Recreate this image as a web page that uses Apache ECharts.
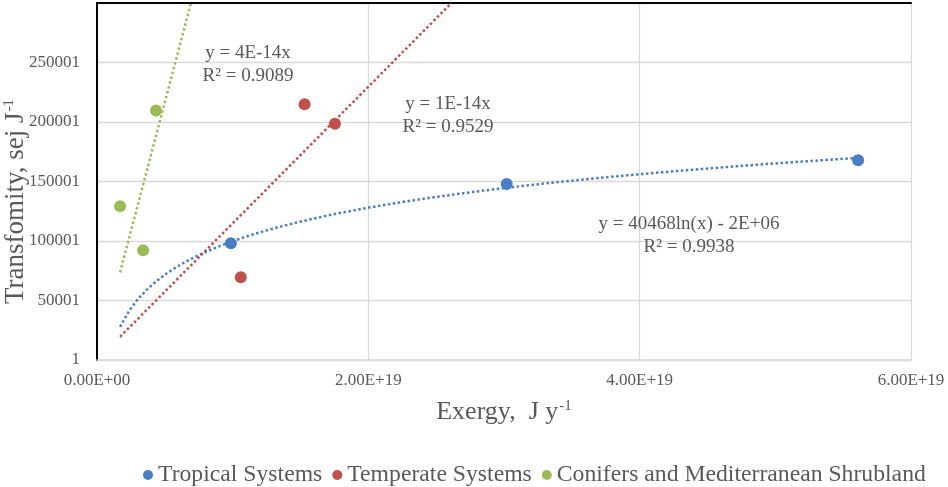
<!DOCTYPE html>
<html>
<head>
<meta charset="utf-8">
<script src="https://cdn.jsdelivr.net/npm/echarts@6/dist/echarts.min.js"></script>
<style>
  html, body { margin: 0; padding: 0; background: #fff; }
  #chart { width: 948px; height: 487px; }
</style>
</head>
<body>
<div id="chart"></div>
<script>
// values: exergy (J/y) vs transformity (sej/J)
const seriesNames = ['Tropical Systems', 'Temperate Systems', 'Conifers and Mediterranean Shrubland'];
const colors = ['#4A7EC4', '#C0504D', '#9BBB59'];

const tropicalX = [0.987e19, 3.02e19, 5.61e19];
const tropicalY = [98150, 147900, 167800];
const temperateX = [1.06e19, 1.53e19, 1.754e19];
const temperateY = [69600, 215000, 198600];
const coniferX = [0.17e19, 0.34e19, 0.435e19];
const coniferY = [129200, 92300, 209700];

// trendline labels as printed on the chart
const eqTropical = ['y = 40468ln(x) - 2E+06', 'R\u00B2 = 0.9938'];
const eqTemperate = ['y = 1E-14x', 'R\u00B2 = 0.9529'];
const eqConifer = ['y = 4E-14x', 'R\u00B2 = 0.9089'];

// axes
const xMin = 0, xMax = 6e19, xStep = 2e19;
const yMin = 1, yMax = 300001, yStep = 50000;
const trendStart = 1.7e18; // trendlines are forecast back to here

const serif = '"Liberation Serif", "Times New Roman", serif';
const grey = '#595959';

function pairs(xs, ys) {
    return xs.map(function (x, i) { return [x, ys[i]]; });
}

// least squares y = a ln(x) + b
function fitLog(xs, ys) {
    const lx = xs.map(Math.log);
    const n = xs.length;
    const mx = lx.reduce((s, v) => s + v, 0) / n;
    const my = ys.reduce((s, v) => s + v, 0) / n;
    let sxy = 0, sxx = 0;
    for (let i = 0; i < n; i++) {
        sxy += (lx[i] - mx) * (ys[i] - my);
        sxx += (lx[i] - mx) * (lx[i] - mx);
    }
    const a = sxy / sxx;
    return { a: a, b: my - a * mx };
}

// least squares y = k x (intercept set to 0)
function fitOrigin(xs, ys) {
    let sxy = 0, sxx = 0;
    for (let i = 0; i < xs.length; i++) {
        sxy += xs[i] * ys[i];
        sxx += xs[i] * xs[i];
    }
    return sxy / sxx;
}

function logTrend(xs, ys) {
    const f = fitLog(xs, ys);
    const end = Math.max.apply(null, xs);
    const out = [];
    const steps = 80;
    for (let i = 0; i <= steps; i++) {
        const x = trendStart + (end - trendStart) * i / steps;
        out.push([x, f.a * Math.log(x) + f.b]);
    }
    return out;
}

function linTrend(xs, ys) {
    const k = fitOrigin(xs, ys);
    return [[trendStart, k * trendStart], [yMax / k, yMax]];
}

function sci(v) {
    if (v === 0) return '0.00E+00';
    const e = Math.floor(Math.log10(v) + 1e-9);
    const m = v / Math.pow(10, e);
    return m.toFixed(2) + 'E+' + String(e).padStart(2, '0');
}

function scatter(name, data, color) {
    return {
        name: name,
        type: 'scatter',
        data: data,
        symbolSize: 12,
        itemStyle: { color: color, opacity: 1 },
        z: 5
    };
}

function trend(name, data, color) {
    return {
        name: name,
        type: 'line',
        data: data,
        showSymbol: false,
        smooth: false,
        clip: true,
        lineStyle: { color: color, width: 2.5, type: 'dotted' },
        silent: true,
        z: 3
    };
}

function eqLabel(lines, cx, cy) {
    return {
        type: 'text',
        x: cx,
        y: cy,
        z: 10,
        style: {
            text: lines.join('\n'),
            font: '19px ' + serif,
            fill: grey,
            align: 'center',
            verticalAlign: 'middle',
            lineHeight: 23
        }
    };
}

const chart = echarts.init(document.getElementById('chart'));

const option = {
    animation: false,
    backgroundColor: '#fff',
    grid: { left: 97, right: 37, top: 3, bottom: 127, outerBoundsMode: 'none', containLabel: false },
    legend: {
        data: seriesNames,
        top: 458,
        left: 138,
        icon: 'circle',
        itemWidth: 10,
        itemHeight: 10,
        itemGap: 10,
        textStyle: { fontFamily: serif, fontSize: 23.7, color: grey }
    },
    xAxis: [{
        type: 'value',
        min: xMin,
        max: xMax,
        interval: xStep,
        name: '{t|Exergy,  J y}{sup|-1}',
        nameLocation: 'middle',
        nameGap: 39,
        nameMoveOverlap: false,
        nameTextStyle: {
            rich: {
                t: { fontFamily: serif, fontSize: 26, color: grey, verticalAlign: 'bottom' },
                sup: { fontFamily: serif, fontSize: 15, color: grey, verticalAlign: 'bottom', padding: [0, 0, 11, 1] }
            }
        },
        axisLine: { lineStyle: { color: '#d9d9d9', width: 1.5 } },
        axisTick: { show: false },
        splitLine: { lineStyle: { color: '#d9d9d9', width: 1.3 } },
        axisLabel: {
            formatter: sci,
            margin: 12,
            fontFamily: serif,
            fontSize: 17,
            color: grey
        }
    }, {
        type: 'value',
        position: 'top',
        min: xMin,
        max: xMax,
        axisLine: { show: true, lineStyle: { color: '#000', width: 2 } },
        axisTick: { show: false },
        axisLabel: { show: false },
        splitLine: { show: false }
    }],
    yAxis: [{
        type: 'value',
        min: yMin,
        max: yMax,
        interval: yStep,
        name: '{t|Transfomity, sej J}{sup|-1}',
        nameLocation: 'middle',
        nameRotate: 90,
        nameGap: 68,
        nameMoveOverlap: false,
        nameTextStyle: {
            padding: [0, 40, 0, 0],
            rich: {
                t: { fontFamily: serif, fontSize: 27, color: grey, verticalAlign: 'bottom' },
                sup: { fontFamily: serif, fontSize: 15, color: grey, verticalAlign: 'bottom', padding: [0, 0, 12, 1] }
            }
        },
        axisLine: { show: true, lineStyle: { color: '#d9d9d9', width: 1.5 } },
        axisTick: { show: false },
        splitLine: { lineStyle: { color: '#d9d9d9', width: 1.3 } },
        axisLabel: {
            showMaxLabel: false,
            formatter: function (v) { return String(v); },
            margin: 17,
            fontFamily: serif,
            fontSize: 17,
            color: grey
        }
    }, {
        type: 'value',
        position: 'right',
        min: yMin,
        max: yMax,
        axisLine: { show: true, lineStyle: { color: '#000', width: 2 } },
        axisTick: { show: false },
        axisLabel: { show: false },
        splitLine: { show: false }
    }],
    series: [
        trend('trend tropical', logTrend(tropicalX, tropicalY), colors[0]),
        trend('trend temperate', linTrend(temperateX, temperateY), colors[1]),
        trend('trend conifer', linTrend(coniferX, coniferY), colors[2]),
        scatter(seriesNames[0], pairs(tropicalX, tropicalY), colors[0]),
        scatter(seriesNames[1], pairs(temperateX, temperateY), colors[1]),
        scatter(seriesNames[2], pairs(coniferX, coniferY), colors[2])
    ],
    graphic: [
        eqLabel(eqConifer, 248, 65),
        eqLabel(eqTemperate, 448, 116),
        eqLabel(eqTropical, 689, 236)
    ]
};

chart.setOption(option);
</script>
</body>
</html>
